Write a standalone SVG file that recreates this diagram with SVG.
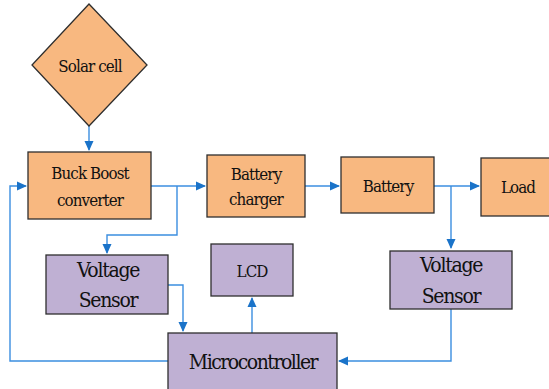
<svg xmlns="http://www.w3.org/2000/svg" width="549" height="389" viewBox="0 0 549 389">
<defs>
<marker id="ah" markerWidth="10" markerHeight="10" refX="9" refY="5" orient="auto" markerUnits="userSpaceOnUse">
<path d="M0,0.5 L10,5 L0,9.5 Z" fill="#1a73c9"/>
</marker>
</defs>
<style>
.o{fill:#f8b880;stroke:#2e2e2e;stroke-width:1.3}
.p{fill:#bfb0d3;stroke:#2e2e2e;stroke-width:1.3}
.t{fill:#111;text-anchor:middle;font-family:"DejaVu Serif Condensed","DejaVu Serif",serif;font-stretch:condensed}
.s{font-size:16.8px;letter-spacing:-0.9px}
.m{font-size:21px;letter-spacing:-1.3px}
.l{font-size:21px;letter-spacing:-1.5px}
.c{fill:none;stroke:#3b8ee0;stroke-width:1.4}
</style>
<rect width="549" height="389" fill="#fff"/>
<g id="connectors">
<path class="c" d="M89,126 V150" marker-end="url(#ah)"/>
<path class="c" d="M151,186 H205" marker-end="url(#ah)"/>
<path class="c" d="M177,186 V235 H107 V253" marker-end="url(#ah)"/>
<path class="c" d="M305,186 H339" marker-end="url(#ah)"/>
<path class="c" d="M434,186 H479" marker-end="url(#ah)"/>
<path class="c" d="M451,186 V248" marker-end="url(#ah)"/>
<path class="c" d="M168,285 H183 V331" marker-end="url(#ah)"/>
<path class="c" d="M252,333 V298" marker-end="url(#ah)"/>
<path class="c" d="M451,309 V361 H339" marker-end="url(#ah)"/>
<path class="c" d="M168,361 H10 V186 H26" marker-end="url(#ah)"/>
</g>
<g id="solar"><polygon class="o" points="89,4 147,65 89,126 32,65"/><text class="t s" x="90" y="72">Solar cell</text></g>
<g id="buckboost"><rect class="o" x="28" y="152" width="123" height="67"/><text class="t s" x="90" y="179">Buck Boost</text><text class="t s" x="90" y="206">converter</text></g>
<g id="charger"><rect class="o" x="207" y="155" width="98" height="62"/><text class="t s" x="256" y="180">Battery</text><text class="t s" x="256" y="205">charger</text></g>
<g id="battery"><rect class="o" x="341" y="157" width="93" height="56"/><text class="t s" x="388" y="192">Battery</text></g>
<g id="load"><rect class="o" x="481" y="158" width="72" height="58"/><text class="t s" x="518" y="193">Load</text></g>
<g id="vs1"><rect class="p" x="46" y="255" width="122" height="59"/><text class="t m" x="108" y="277">Voltage</text><text class="t m" x="108" y="307">Sensor</text></g>
<g id="lcd"><rect class="p" x="211" y="244" width="82" height="52"/><text class="t s" x="252" y="277">LCD</text></g>
<g id="vs2"><rect class="p" x="390" y="251" width="122" height="58"/><text class="t m" x="451" y="272">Voltage</text><text class="t m" x="451" y="303">Sensor</text></g>
<g id="micro"><rect class="p" x="168" y="333" width="169" height="62"/><text class="t l" x="253" y="369">Microcontroller</text></g>
</svg>
